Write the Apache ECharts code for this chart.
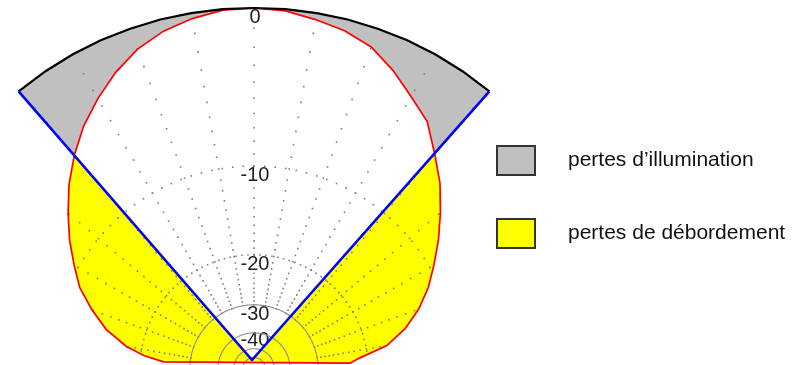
<!DOCTYPE html>
<html><head><meta charset="utf-8">
<script src="https://cdn.jsdelivr.net/npm/echarts@6/dist/echarts.min.js"></script>
<style>html,body{margin:0;padding:0;background:#fff}#c{width:806px;height:365px}</style>
</head><body><div id="c"></div>
<script>
// Feed radiation pattern (angle in degrees, 0 = boresight), level in dB
const patternAngles = [-85.5,-83,-80,-75,-70,-65,-60,-55,-50,-45,-40,-35,-30,-25,-20,-15,-10,-5,0,5,10,15,20,25,30,35,40,45,50,55,60,65,70,75,80,84,86.5];
const patternDb = [-24,-20.5,-17.8,-14.9,-12.85,-10.95,-9.6,-8.2,-6.9,-5.6,-4.45,-3.4,-2.52,-1.7,-1.02,-0.55,-0.25,-0.04,0,-0.07,-0.3,-0.53,-0.9,-1.6,-2.4,-3.1,-4.35,-5.5,-6.85,-8.2,-9.6,-10.95,-12.55,-14.5,-17.1,-21.2,-23];
// Ideal illumination curve over the reflector aperture
const illumAngles = [-40.3,-35,-30,-25,-20,-15,-10,-5,0,5,10,15,20,25,30,35,40.3];
const illumDb = [0.14,0.12,0.1,0.08,0.05,0.04,0.02,0.01,0,0.01,0.02,0.04,0.05,0.08,0.1,0.12,0.14];
// Reflector edges and focal apex (angle, dB)
const coneAngles = [-40.3,-12.5,40.3];
const coneDb = [0.14,-63.7,0.14];
// Grid
const tickDb = [0,-10,-20,-30,-40];
const tickLabels = ['0','-10','-20','-30','-40'];
const dottedRingDb = [-10,-20];
const solidRingDb = [-30,-40,-50,-60];
const radialAngles = [-90,-80,-70,-60,-50,-40,-30,-20,-10,0,10,20,30,40,50,60,70,80,90];
const legendNames = ['pertes d\u2019illumination','pertes de débordement'];

const rv = db => Math.pow(10, db/40);
function interp(xs, ys, a){
  if (a < xs[0] || a > xs[xs.length-1]) return -Infinity;
  for (let i=0;i<xs.length-1;i++){
    if (a>=xs[i] && a<=xs[i+1]){ const t=(a-xs[i])/(xs[i+1]-xs[i]); return ys[i]+t*(ys[i+1]-ys[i]); }
  }
  return -Infinity;
}
const patternAt = a => interp(patternAngles, patternDb, a);
const illumAt = a => interp(illumAngles, illumDb, a);
const visible = (d,a) => d <= patternAt(a) || (a>=coneAngles[0] && a<=coneAngles[2] && d <= illumAt(a));

function segInt(p1,p2,q1,q2){
  const r=[p2[0]-p1[0],p2[1]-p1[1]], s=[q2[0]-q1[0],q2[1]-q1[1]];
  const den=r[0]*s[1]-r[1]*s[0]; if (Math.abs(den)<1e-9) return null;
  const t=((q1[0]-p1[0])*s[1]-(q1[1]-p1[1])*s[0])/den;
  const u=((q1[0]-p1[0])*r[1]-(q1[1]-p1[1])*r[0])/den;
  if (t<0||t>1||u<0||u>1) return null;
  return [p1[0]+t*r[0], p1[1]+t*r[1]];
}
const FONT = '"Liberation Sans", Arial, sans-serif';
const patPts = api => patternAngles.map((a,i)=>api.coord([rv(patternDb[i]), a]));
const conePts = api => coneAngles.map((a,i)=>api.coord([rv(coneDb[i]), a]));

const layers = {
  yellow: (p, api) => ({type:'polygon', shape:{points:patPts(api)}, style:{fill:'#ffff00'}}),
  grey: (p, api) => {
    const pts = illumAngles.map((a,i)=>api.coord([rv(illumDb[i]), a]));
    pts.push(conePts(api)[1]);
    return {type:'polygon', shape:{points:pts}, style:{fill:'#c0c0c0'}};
  },
  white: (p, api) => {
    const pat = patPts(api), c = conePts(api);
    let li=-1, lp=null, ri=-1, rp=null;
    for (let i=0;i<pat.length-1;i++){ const x=segInt(pat[i],pat[i+1],c[1],c[0]); if (x){li=i;lp=x;break;} }
    for (let i=pat.length-2;i>=0;i--){ const x=segInt(pat[i],pat[i+1],c[1],c[2]); if (x){ri=i;rp=x;break;} }
    const pts=[c[1], lp].concat(pat.slice(li+1, ri+1)).concat([rp]);
    return {type:'polygon', shape:{points:pts}, style:{fill:'#ffffff'}};
  },
  dots: (p, api) => {
    const ch=[];
    const dot = q => ch.push({type:'rect', shape:{x:q[0]-0.8,y:q[1]-0.8,width:1.6,height:1.6}, style:{fill:'#7c7c7c'}});
    radialAngles.forEach(a=>{ for (let d=-1; d>=-30; d--) if (visible(d,a)) dot(api.coord([rv(d),a])); });
    dottedRingDb.forEach(d=>{ for (let a=-96; a<=96; a+=3) if (visible(d,a)) dot(api.coord([rv(d),a])); });
    return {type:'group', children:ch};
  },
  labels: (p, api) => ({type:'group', children: tickDb.map((d,i)=>{
    const q = api.coord([rv(d),0]);
    return {type:'text', style:{text:tickLabels[i], x:q[0]+1, y:q[1]+(d===-40?7.5:9.5), align:'center', verticalAlign:'middle',
      font:'20px '+FONT, fill:'#1e1e1e', backgroundColor: d===-40?'transparent':'#ffffff', padding:[0,1], lineHeight:16}};
  })}),
  rings: (p, api) => ({type:'group', children: solidRingDb.map(d=>{
    const pts=[]; for (let a=-180;a<=180;a+=2) pts.push(api.coord([rv(d),a]));
    return {type:'polyline', shape:{points:pts}, style:{stroke:'#8c8c8c', lineWidth:1.1, fill:null}};
  })}),
  red: (p, api) => ({type:'polygon', shape:{points:patPts(api)}, style:{fill:null, stroke:'#ff0000', lineWidth:1.7}}),
  black: (p, api) => ({type:'polyline', shape:{points:illumAngles.map((a,i)=>api.coord([rv(illumDb[i]), a]))}, style:{fill:null, stroke:'#000000', lineWidth:2.2}}),
  blue: (p, api) => ({type:'polyline', shape:{points:conePts(api)}, style:{fill:null, stroke:'#0000ff', lineWidth:2.6, lineJoin:'round'}})
};
const order = ['yellow','grey','white','dots','labels','rings','red','black','blue'];
const series = order.map((k,i)=>({
  type:'custom', coordinateSystem:'polar', name: k==='yellow'?legendNames[1]:(k==='grey'?legendNames[0]:'_'+k),
  itemStyle:{color: k==='yellow'?'#ffff00':(k==='grey'?'#c0c0c0':'#000')},
  z: 2+i, silent:true, animation:false, data:[[0,0]], renderItem: layers[k]
}));

const chart = echarts.init(document.getElementById('c'), null, {renderer:'canvas'});
chart.setOption({
  backgroundColor:'#ffffff',
  animation:false,
  polar:{center:[254,369], radius:361*1.05},
  angleAxis:{type:'value', min:-180, max:180, startAngle:270, clockwise:true, show:false},
  radiusAxis:{type:'value', min:0, max:1.05, show:false},
  legend:{
    left:496, top:145, orient:'vertical', itemWidth:38, itemHeight:29, itemGap:42, padding:0,
    icon:'rect', selectedMode:false,
    itemStyle:{borderColor:'#333333', borderWidth:2},
    textStyle:{fontFamily:FONT, fontSize:21, color:'#111111', padding:[0,0,0,28]},
    data:[{name:legendNames[0]},{name:legendNames[1]}]
  },
  series: series
});
</script></body></html>
